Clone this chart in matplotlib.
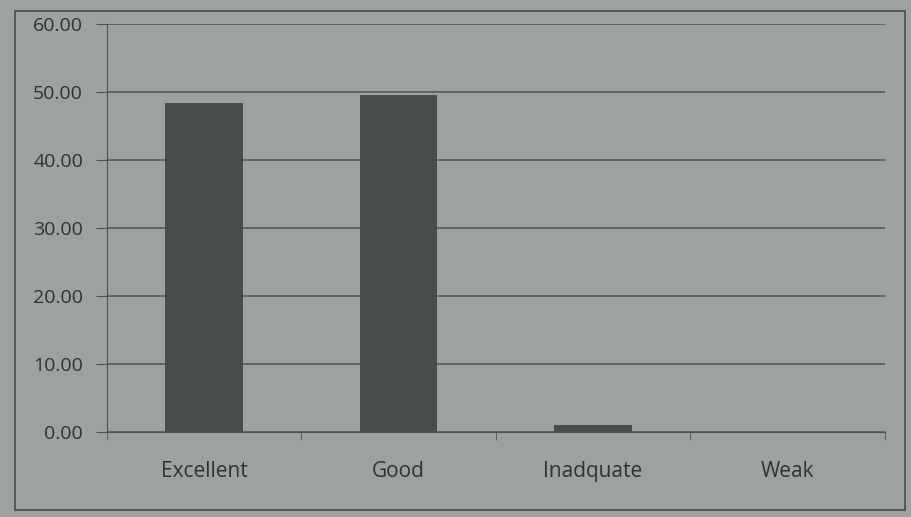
import matplotlib.pyplot as plt
from matplotlib.patches import Rectangle

categories = ['Excellent', 'Good', 'Inadquate', 'Weak']
values = [48.4, 49.6, 1.0, 0.0]
yticks = [0, 10, 20, 30, 40, 50, 60]

bg = '#9da1a2'
fig = plt.figure(figsize=(9.12, 5.17), dpi=100, facecolor=bg)
# outer chart border
fig.patches.append(Rectangle((0.016, 0.014), 0.976, 0.965, transform=fig.transFigure,
                             fill=False, edgecolor='#4d5152', linewidth=1.3))

ax = fig.add_axes([0.117, 0.164, 0.853, 0.79])
ax.set_facecolor(bg)
ax.bar(range(len(categories)), values, width=0.4, color='#494d4e', zorder=3)

ax.set_xlim(-0.5, len(categories) - 0.5)
ax.set_ylim(0, 60)
ax.set_yticks(yticks)
ax.set_yticklabels(['%.2f' % v for v in yticks])
ax.set_xticks(range(len(categories)))
ax.set_xticklabels(categories)
ax.set_xticks([i + 0.5 for i in range(-1, len(categories))], minor=True)

ax.grid(axis='y', color='#4f5354', linewidth=1.1, zorder=0)
for s in ['top', 'right']:
    ax.spines[s].set_visible(False)
for s in ['left', 'bottom']:
    ax.spines[s].set_color('#4f5354')
ax.tick_params(axis='y', length=8, color='#4f5354', labelsize=14, labelcolor='#2f3334', pad=9)
ax.tick_params(axis='x', which='major', length=0, labelsize=15, labelcolor='#2f3334', pad=21)
ax.tick_params(axis='x', which='minor', length=6, color='#4f5354')
for t in ax.get_xticklabels() + ax.get_yticklabels():
    t.set_fontfamily('Open Sans')

plt.savefig('out.png', dpi=100, facecolor=bg)
